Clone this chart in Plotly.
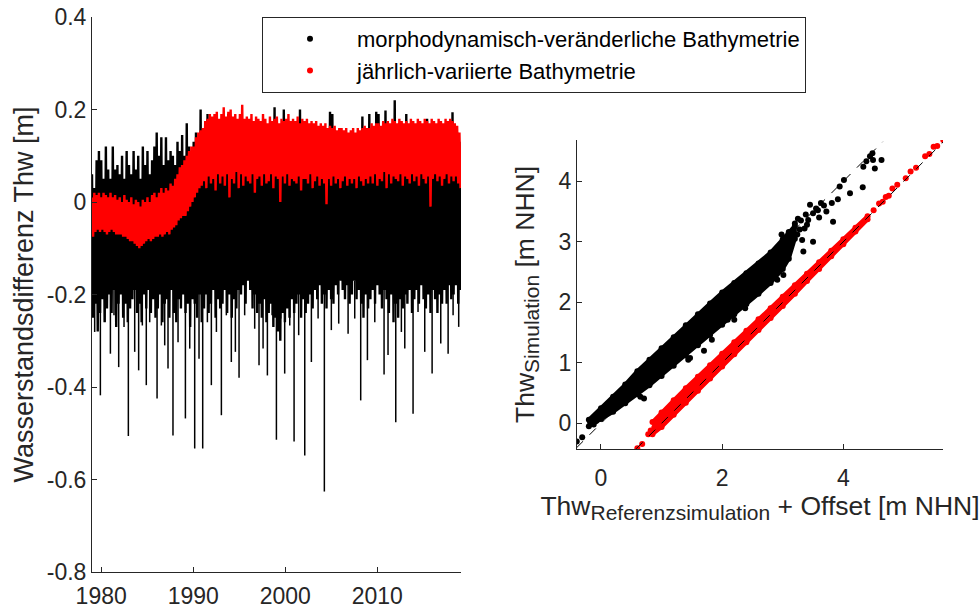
import numpy as np
import plotly.graph_objects as go

# ---------------- left panel: time series (decimal years, quarterly envelopes) -------------
years_start, years_end = 1979.0, 2018.93

black_hi = [
    0.06, 0.03, 0.09, 0.11,  # 1979
    0.09, 0.05, 0.12, 0.07,  # 1980
    0.05, 0.12, 0.07, 0.08,  # 1981
    0.06, 0.10, 0.05, 0.11,  # 1982
    0.08, 0.06, 0.11, 0.07,  # 1983
    0.10, 0.05, 0.12, 0.08,  # 1984
    0.11, 0.06, 0.09, 0.12,  # 1985
    0.15, 0.10, 0.14, 0.08,  # 1986
    0.14, 0.09, 0.11, 0.10,  # 1987
    0.08, 0.13, 0.11, 0.145,  # 1988
    0.10, 0.17, 0.12, 0.11,  # 1989
    0.13, 0.15, 0.12, 0.20,  # 1990
    0.14, 0.12, 0.19, 0.13,  # 1991
    0.12, 0.15, 0.13, 0.14,  # 1992
    0.15, 0.12, 0.14, 0.19,  # 1993
    0.13, 0.15, 0.12, 0.14,  # 1994
    0.12, 0.14, 0.13, 0.15,  # 1995
    0.14, 0.12, 0.15, 0.13,  # 1996
    0.13, 0.15, 0.12, 0.14,  # 1997
    0.15, 0.13, 0.14, 0.205,  # 1998
    0.12, 0.14, 0.13, 0.20,  # 1999
    0.14, 0.12, 0.15, 0.13,  # 2000
    0.13, 0.14, 0.20, 0.12,  # 2001
    0.15, 0.13, 0.12, 0.14,  # 2002
    0.12, 0.14, 0.13, 0.12,  # 2003
    0.14, 0.12, 0.13, 0.195,  # 2004
    0.19, 0.13, 0.12, 0.14,  # 2005
    0.13, 0.12, 0.14, 0.13,  # 2006
    0.12, 0.14, 0.13, 0.12,  # 2007
    0.14, 0.185, 0.13, 0.12,  # 2008
    0.19, 0.13, 0.14, 0.195,  # 2009
    0.19, 0.14, 0.13, 0.198,  # 2010
    0.13, 0.14, 0.15, 0.22,  # 2011
    0.14, 0.13, 0.15, 0.14,  # 2012
    0.19, 0.14, 0.13, 0.15,  # 2013
    0.14, 0.13, 0.15, 0.14,  # 2014
    0.13, 0.18, 0.14, 0.13,  # 2015
    0.15, 0.14, 0.13, 0.15,  # 2016
    0.14, 0.13, 0.15, 0.14,  # 2017
    0.194, 0.14, 0.15, 0.13,  # 2018
]

black_lo = [
    -0.25, -0.22, -0.28, -0.24,  # 1979
    -0.21, -0.26, -0.23, -0.20,  # 1980
    -0.24, -0.19, -0.27, -0.22,  # 1981
    -0.20, -0.25, -0.22, -0.26,  # 1982
    -0.23, -0.21, -0.19, -0.24,  # 1983
    -0.22, -0.26, -0.20, -0.23,  # 1984
    -0.19, -0.24, -0.21, -0.25,  # 1985
    -0.23, -0.20, -0.26, -0.22,  # 1986
    -0.21, -0.25, -0.19, -0.24,  # 1987
    -0.26, -0.21, -0.23, -0.20,  # 1988
    -0.24, -0.22, -0.27, -0.21,  # 1989
    -0.22, -0.25, -0.20, -0.26,  # 1990
    -0.23, -0.20, -0.24, -0.22,  # 1991
    -0.19, -0.25, -0.21, -0.23,  # 1992
    -0.22, -0.19, -0.24, -0.20,  # 1993
    -0.25, -0.21, -0.23, -0.19,  # 1994
    -0.20, -0.18, -0.22, -0.17,  # 1995
    -0.19, -0.23, -0.20, -0.24,  # 1996
    -0.22, -0.25, -0.21, -0.26,  # 1997
    -0.24, -0.22, -0.27, -0.25,  # 1998
    -0.28, -0.30, -0.24, -0.26,  # 1999
    -0.23, -0.25, -0.21, -0.24,  # 2000
    -0.22, -0.20, -0.25, -0.21,  # 2001
    -0.24, -0.22, -0.20, -0.23,  # 2002
    -0.19, -0.21, -0.18, -0.22,  # 2003
    -0.20, -0.23, -0.19, -0.21,  # 2004
    -0.22, -0.18, -0.20, -0.17,  # 2005
    -0.19, -0.21, -0.18, -0.22,  # 2006
    -0.20, -0.17, -0.21, -0.19,  # 2007
    -0.22, -0.25, -0.20, -0.23,  # 2008
    -0.21, -0.19, -0.22, -0.18,  # 2009
    -0.20, -0.23, -0.19, -0.21,  # 2010
    -0.24, -0.20, -0.26, -0.22,  # 2011
    -0.25, -0.21, -0.23, -0.20,  # 2012
    -0.22, -0.19, -0.24, -0.21,  # 2013
    -0.19, -0.22, -0.18, -0.21,  # 2014
    -0.23, -0.20, -0.24, -0.19,  # 2015
    -0.21, -0.24, -0.20, -0.22,  # 2016
    -0.19, -0.22, -0.18, -0.21,  # 2017
    -0.20, -0.18, -0.22, -0.19,  # 2018
]

# deep individual low spikes of the black series (time, value)
spike_t = [1979.29, 1979.91, 1980.38, 1981.00, 1981.39, 1981.90, 1982.48, 1982.95, 1983.64,
           1984.07, 1984.47, 1984.90, 1985.27, 1986.07, 1986.54, 1986.90, 1987.26, 1987.80,
           1988.35, 1989.15, 1989.62, 1990.16, 1990.63, 1991.03, 1991.54, 1991.97, 1992.52,
           1993.06, 1993.60, 1994.14, 1994.58, 1994.98, 1995.59, 1996.68, 1997.15, 1997.59,
           1998.06, 1998.57, 1999.04, 1999.51, 1999.94, 2000.49, 2000.96, 2001.46, 2002.12,
           2002.84, 2003.57, 2004.25, 2005.01, 2005.81, 2006.83, 2007.55, 2008.20, 2008.93,
           2009.73, 2010.74, 2011.17, 2012.01, 2012.62, 2012.99, 2013.89, 2014.43, 2015.16,
           2015.96, 2016.90, 2017.70, 2018.24, 2018.85]
spike_v = [-0.281, -0.418, -0.259, -0.328, -0.245, -0.357, -0.270, -0.506, -0.324,
           -0.364, -0.267, -0.396, -0.260, -0.425, -0.267, -0.310, -0.360, -0.505,
           -0.303, -0.468, -0.317, -0.533, -0.339, -0.533, -0.260, -0.396, -0.281,
           -0.461, -0.245, -0.346, -0.324, -0.380, -0.245, -0.274, -0.353, -0.317,
           -0.375, -0.245, -0.514, -0.252, -0.371, -0.267, -0.518, -0.288, -0.548,
           -0.346, -0.252, -0.626, -0.277, -0.263, -0.285, -0.252, -0.429, -0.342,
           -0.260, -0.373, -0.331, -0.476, -0.281, -0.317, -0.458, -0.238, -0.324,
           -0.371, -0.306, -0.328, -0.245, -0.270]

red_hi = [
    0.010, 0.020, 0.015, 0.020,  # 1979
    0.010, 0.020, 0.015, 0.010,  # 1980
    0.020, 0.010, 0.015, 0.005,  # 1981
    0.010, 0.000, 0.015, 0.005,  # 1982
    0.000, 0.010, -0.005, 0.005,  # 1983
    0.000, -0.010, 0.005, 0.000,  # 1984
    0.010, 0.000, 0.015, 0.020,  # 1985
    0.010, 0.020, 0.030, 0.020,  # 1986
    0.030, 0.025, 0.040, 0.035,  # 1987
    0.050, 0.060, 0.075, 0.080,  # 1988
    0.090, 0.100, 0.110, 0.120,  # 1989
    0.120, 0.140, 0.150, 0.155,  # 1990
    0.160, 0.175, 0.180, 0.190,  # 1991
    0.185, 0.190, 0.195, 0.180,  # 1992
    0.190, 0.205, 0.185, 0.195,  # 1993
    0.200, 0.185, 0.190, 0.180,  # 1994
    0.190, 0.210, 0.180, 0.185,  # 1995
    0.180, 0.190, 0.175, 0.185,  # 1996
    0.180, 0.175, 0.190, 0.180,  # 1997
    0.170, 0.185, 0.175, 0.180,  # 1998
    0.185, 0.170, 0.180, 0.175,  # 1999
    0.180, 0.190, 0.175, 0.180,  # 2000
    0.175, 0.185, 0.170, 0.180,  # 2001
    0.175, 0.180, 0.170, 0.175,  # 2002
    0.170, 0.175, 0.165, 0.170,  # 2003
    0.165, 0.170, 0.160, 0.165,  # 2004
    0.160, 0.165, 0.155, 0.160,  # 2005
    0.160, 0.155, 0.160, 0.150,  # 2006
    0.155, 0.160, 0.150, 0.160,  # 2007
    0.155, 0.160, 0.165, 0.160,  # 2008
    0.160, 0.170, 0.165, 0.170,  # 2009
    0.170, 0.165, 0.175, 0.170,  # 2010
    0.175, 0.170, 0.180, 0.175,  # 2011
    0.170, 0.180, 0.175, 0.170,  # 2012
    0.175, 0.170, 0.180, 0.175,  # 2013
    0.170, 0.180, 0.175, 0.170,  # 2014
    0.180, 0.175, 0.170, 0.180,  # 2015
    0.175, 0.170, 0.180, 0.175,  # 2016
    0.170, 0.180, 0.175, 0.180,  # 2017
    0.175, 0.170, 0.165, 0.150,  # 2018
]

red_lo = [
    -0.075, -0.065, -0.060, -0.065,  # 1979
    -0.060, -0.065, -0.070, -0.065,  # 1980
    -0.060, -0.065, -0.070, -0.070,  # 1981
    -0.070, -0.075, -0.075, -0.080,  # 1982
    -0.085, -0.085, -0.090, -0.095,  # 1983
    -0.100, -0.095, -0.090, -0.085,  # 1984
    -0.080, -0.085, -0.080, -0.075,  # 1985
    -0.075, -0.070, -0.075, -0.070,  # 1986
    -0.065, -0.070, -0.060, -0.055,  # 1987
    -0.050, -0.040, -0.035, -0.030,  # 1988
    -0.030, -0.020, -0.010, 0.000,  # 1989
    0.010, 0.020, 0.030, 0.035,  # 1990
    0.045, 0.030, 0.055, 0.040,  # 1991
    0.050, 0.025, 0.060, 0.040,  # 1992
    0.055, 0.035, 0.060, 0.010,  # 1993
    0.050, 0.040, 0.065, 0.030,  # 1994
    0.060, 0.035, 0.055, 0.045,  # 1995
    0.040, 0.060, 0.020, 0.050,  # 1996
    0.055, 0.035, 0.060, 0.040,  # 1997
    0.045, 0.060, 0.030, 0.055,  # 1998
    0.050, 0.000, 0.055, 0.040,  # 1999
    0.060, 0.035, 0.050, 0.045,  # 2000
    0.040, 0.055, 0.025, 0.050,  # 2001
    0.050, 0.040, 0.060, 0.030,  # 2002
    0.045, 0.055, 0.035, 0.050,  # 2003
    0.040, -0.005, 0.050, 0.035,  # 2004
    0.055, 0.040, 0.050, 0.030,  # 2005
    0.045, 0.055, 0.035, 0.050,  # 2006
    0.040, 0.050, 0.030, 0.055,  # 2007
    0.045, 0.035, 0.050, 0.040,  # 2008
    0.055, 0.040, 0.060, 0.035,  # 2009
    0.050, 0.045, 0.065, 0.030,  # 2010
    0.060, 0.040, 0.055, 0.050,  # 2011
    0.045, 0.060, 0.035, 0.055,  # 2012
    0.050, 0.040, 0.060, 0.045,  # 2013
    0.055, 0.035, 0.060, 0.050,  # 2014
    0.040, 0.055, -0.010, 0.050,  # 2015
    0.060, 0.045, 0.055, 0.035,  # 2016
    0.050, 0.060, 0.040, 0.055,  # 2017
    0.045, 0.055, 0.040, 0.030,  # 2018
]

year_ticks = [1980, 1990, 2000, 2010]

# ---------------- right panel: scatter Thw_Simulation vs Thw_Referenz + Offset --------------
black_band_x = [-0.20, 0.00, 0.20, 0.40, 0.60, 0.80, 1.00, 1.20, 1.40, 1.60, 1.80, 2.00, 2.20, 2.40, 2.60, 2.80, 3.00, 3.10, 3.20]
black_band_hi = [0.06, 0.25, 0.44, 0.64, 0.86, 1.05, 1.24, 1.42, 1.62, 1.80, 1.98, 2.16, 2.32, 2.48, 2.64, 2.82, 3.04, 3.16, 3.26]
black_band_lo = [-0.05, 0.07, 0.19, 0.33, 0.48, 0.63, 0.78, 0.95, 1.12, 1.29, 1.46, 1.63, 1.80, 1.97, 2.14, 2.32, 2.55, 2.72, 3.05]

black_pts_x = [-0.40, -0.31, -0.18, -0.12, -0.08, 0.65, 0.71, 1.44, 1.47, 1.70, 1.83, 2.09, 2.20, 2.38,
               2.85, 2.91, 3.01, 3.05, 3.10, 3.15, 3.20, 3.28, 3.32, 3.34, 3.42, 3.45, 3.50, 3.50,
               3.55, 3.60, 3.63, 3.72, 3.81, 3.83, 3.91, 3.94, 4.01, 4.11, 4.32, 4.33, 4.38, 4.44,
               4.48, 4.49, 4.52, 4.63, 3.38, 3.25, 3.68, 2.95, 3.02, 3.12, 3.18, 3.24, 3.30, 3.36,
               2.72, 2.98, 3.40, 3.58]
black_pts_y = [-0.30, -0.23, 0.02, -0.02, 0.04, 0.44, 0.41, 1.05, 1.08, 1.20, 1.38, 1.71, 1.71, 1.90,
               2.60, 2.37, 2.45, 2.90, 3.15, 2.98, 3.30, 3.20, 3.03, 2.84, 3.36, 3.61, 3.00, 3.47,
               3.55, 3.40, 3.64, 3.50, 3.64, 3.33, 3.70, 3.91, 4.02, 3.80, 3.90, 4.24, 4.33, 4.41,
               4.46, 4.35, 4.21, 4.35, 3.45, 3.38, 3.60, 2.74, 2.82, 2.92, 3.08, 3.12, 3.35, 3.22,
               2.30, 3.12, 3.28, 3.52]

red_band_x = [0.85, 1.00, 1.20, 1.40, 1.60, 1.80, 2.00, 2.20, 2.40, 2.60, 2.80, 3.00, 3.20, 3.40, 3.60, 3.80, 4.00, 4.20, 4.40]
red_band_hi = [0.02, 0.18, 0.38, 0.58, 0.77, 0.96, 1.15, 1.34, 1.53, 1.72, 1.90, 2.09, 2.28, 2.47, 2.66, 2.85, 3.04, 3.23, 3.42]
red_band_lo = [-0.18, -0.06, 0.14, 0.34, 0.54, 0.74, 0.94, 1.14, 1.34, 1.54, 1.74, 1.94, 2.14, 2.35, 2.55, 2.76, 2.96, 3.17, 3.37]

red_pts_x = [0.60, 0.68, 0.78, 0.82, 0.88, 0.93, 4.50, 4.59, 4.65, 4.70, 4.75, 4.81, 4.89, 5.03, 5.11,
             5.20, 5.35, 5.42, 5.49, 5.55, 5.65]
red_pts_y = [-0.41, -0.34, -0.18, -0.12, -0.07, -0.06, 3.52, 3.63, 3.66, 3.74, 3.76, 3.88, 3.94, 4.05,
             4.16, 4.22, 4.41, 4.45, 4.57, 4.58, 4.68]

ref_black_x = [-0.40, 4.65]
ref_black_y = [-0.40, 4.65]
ref_red_x = [0.58, 5.65]
ref_red_y = [-0.42, 4.65]

legend_names = ["morphodynamisch-veränderliche Bathymetrie", "jährlich-variierte Bathymetrie"]

# ---------------- build ---------------------------------------------------------------------
AX = "#262626"
FONT = "Liberation Sans, Arial, sans-serif"

t_hi = np.linspace(years_start, years_end, len(black_hi))
t_lo = t_hi + 0.12


def zigzag(hi, lo):
    pts = [(t, v) for t, v in zip(t_hi, hi)] + [(t, v) for t, v in zip(t_lo, lo)]
    pts.sort(key=lambda p: p[0])
    return [p[0] for p in pts], [p[1] for p in pts]


bx, by = zigzag(black_hi, black_lo)
rx, ry = zigzag(red_hi, red_lo)

# spikes as vertical strokes hanging from the dense core
sx, sy = [], []
for t, v in zip(spike_t, spike_v):
    sx += [t, t, None]
    sy += [-0.17, v, None]

fig = go.Figure()
fig.add_trace(go.Scatter(x=bx, y=by, mode="lines", line=dict(color="black", width=2.4),
                         showlegend=False, xaxis="x", yaxis="y", hoverinfo="skip"))
fig.add_trace(go.Scatter(x=sx, y=sy, mode="lines", line=dict(color="black", width=1.5),
                         showlegend=False, xaxis="x", yaxis="y", hoverinfo="skip", connectgaps=False))
fig.add_trace(go.Scatter(x=rx, y=ry, mode="lines", line=dict(color="red", width=2.4),
                         showlegend=False, xaxis="x", yaxis="y", hoverinfo="skip"))


def band(xs, hi, lo, color):
    return go.Scatter(x=list(xs) + list(xs)[::-1], y=list(hi) + list(lo)[::-1], mode="lines+markers",
                      fill="toself", fillcolor=color, line=dict(color=color, width=4),
                      marker=dict(color=color, size=6), showlegend=False,
                      xaxis="x2", yaxis="y2", hoverinfo="skip")


fig.add_trace(band(black_band_x, black_band_hi, black_band_lo, "black"))
fig.add_trace(band(red_band_x, red_band_hi, red_band_lo, "red"))
fig.add_trace(go.Scatter(x=black_pts_x, y=black_pts_y, mode="markers", name=legend_names[0],
                         marker=dict(color="black", size=6), xaxis="x2", yaxis="y2"))
fig.add_trace(go.Scatter(x=red_pts_x, y=red_pts_y, mode="markers", name=legend_names[1],
                         marker=dict(color="red", size=6), xaxis="x2", yaxis="y2"))
fig.add_trace(go.Scatter(x=ref_black_x, y=ref_black_y, mode="lines", showlegend=False,
                         line=dict(color="black", width=1, dash="dash"), xaxis="x2", yaxis="y2"))
fig.add_trace(go.Scatter(x=ref_red_x, y=ref_red_y, mode="lines", showlegend=False,
                         line=dict(color="black", width=1, dash="dash"), xaxis="x2", yaxis="y2"))

W, H = 979, 610
axis_common = dict(showline=True, linecolor=AX, linewidth=1, ticks="inside", ticklen=5,
                   tickcolor=AX, tickwidth=1, showgrid=False, zeroline=False, mirror=False,
                   automargin=False, tickfont=dict(family=FONT, size=23, color=AX))

SUBSTYLE = "font-size:21px"

fig.update_layout(
    width=W, height=H, margin=dict(l=0, r=0, t=0, b=0, autoexpand=False),
    paper_bgcolor="white", plot_bgcolor="white",
    font=dict(family=FONT, color=AX),
    xaxis=dict(domain=[92 / W, 461 / W], range=[1979.0, 2019.1], tickvals=year_ticks,
               ticktext=[str(v) for v in year_ticks], anchor="y", ticklabelstandoff=3, **axis_common),
    yaxis=dict(domain=[1 - 572 / H, 1 - 17 / H], range=[-0.8, 0.4], tickvals=[-0.8, -0.6, -0.4, -0.2, 0, 0.2, 0.4],
               ticktext=["-0.8", "-0.6", "-0.4", "-0.2", "0", "0.2", "0.4"], anchor="x",
               title=dict(text="Wasserstandsdifferenz Thw [m]", font=dict(family=FONT, size=27, color=AX),
                          standoff=5), **axis_common),
    xaxis2=dict(domain=[577 / W, 943 / W], range=[-0.396, 5.645], tickvals=[0, 2, 4], anchor="y2",
                ticklabelstandoff=8,
                title=dict(text=f"Thw<sub><span style='{SUBSTYLE}'>Referenzsimulation</span></sub> + Offset [m NHN]",
                           font=dict(family=FONT, size=26.5, color=AX), standoff=6), **axis_common),
    yaxis2=dict(domain=[1 - 449 / H, 1 - 140 / H], range=[-0.424, 4.68], tickvals=[0, 1, 2, 3, 4], anchor="x2",
                title=dict(text=f"Thw<sub><span style='{SUBSTYLE}'>Simulation</span></sub> [m NHN]",
                           font=dict(family=FONT, size=26.5, color=AX), standoff=16), **axis_common),
    legend=dict(x=262 / W, y=1 - 17 / H, xanchor="left", yanchor="top", bgcolor="white",
                bordercolor=AX, borderwidth=1, itemwidth=84,
                font=dict(family=FONT, size=22, color="black")),
)

fig.write_html("out.html")
